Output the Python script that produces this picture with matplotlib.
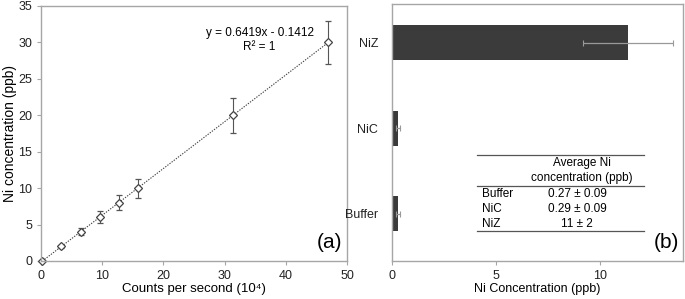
import numpy as np
import matplotlib as mpl
mpl.use('Agg')
import matplotlib.pyplot as plt

plt.rcParams['font.family'] = ['Liberation Sans', 'DejaVu Sans']

# calibration data (a)
cps = [0.22, 3.34, 6.45, 9.57, 12.68, 15.8, 31.38, 46.95]
conc = [0, 2, 4, 6, 8, 10, 20, 30]
conc_err = [0, 0.2, 0.5, 0.8, 1.0, 1.3, 2.4, 3.0]
slope, icpt = 0.6419, -0.1412

# bar data (b)
samples = ['Buffer', 'NiC', 'NiZ']
ni_mean = [0.27, 0.29, 11.35]
ni_err = [0.09, 0.09, 2.15]
tbl_rows = ['Buffer', 'NiC', 'NiZ']
tbl_vals = ['0.27 \u00b1 0.09', '0.29 \u00b1 0.09', '11 \u00b1 2']

spine_c = '#a6a6a6'
fig = plt.figure(figsize=(6.85, 2.99), dpi=100)
ax1 = fig.add_axes([0.0599, 0.1271, 0.4467, 0.853])
ax2 = fig.add_axes([0.5723, 0.1271, 0.4248, 0.8595])

for ax in (ax1, ax2):
    for s in ax.spines.values():
        s.set_color(spine_c)
        s.set_linewidth(1.0)
    ax.tick_params(colors=spine_c, labelcolor='#222222', labelsize=9, length=3, width=0.8)

# (a)
xx = np.linspace(min(cps), max(cps), 50)
ax1.plot(xx, slope*xx + icpt, ls=(0, (1.2, 1.2)), color='#444444', lw=0.8)
eb = ax1.errorbar(cps, conc, yerr=conc_err, fmt='D', ms=4.5, mfc='white', mec='#444444', mew=0.9,
                  ecolor='#555555', elinewidth=0.8, capsize=2.5, capthick=0.8)
eb.lines[0].set_clip_on(False)
ax1.set_xlim(0, 50)
ax1.set_ylim(0, 35)
ax1.set_xticks(range(0, 51, 10))
ax1.set_yticks(range(0, 36, 5))
ax1.set_xlabel('Counts per second (10\u2074)', fontsize=9.5, labelpad=1)
ax1.set_ylabel('Ni concentration (ppb)', fontsize=10, labelpad=1)
ax1.text(35.8, 31.3, 'y = 0.6419x - 0.1412', ha='center', va='center', fontsize=8.5)
ax1.text(35.6, 29.4, 'R\u00b2 = 1', ha='center', va='center', fontsize=8.5)
ax1.text(0.985, 0.035, '(a)', transform=ax1.transAxes, ha='right', va='bottom', fontsize=15)

# (b)
ypos = np.arange(len(samples))
ax2.barh(ypos, ni_mean, height=0.41, color='#3b3b3b')
ax2.errorbar(ni_mean, ypos, xerr=ni_err, fmt='none', ecolor='#999999', elinewidth=0.9,
             capsize=2.5, capthick=0.8)
ax2.set_yticks(ypos)
ax2.set_yticklabels(samples)
ax2.tick_params(axis='y', length=0, pad=10)
ax2.set_xlim(0, 14)
ax2.set_ylim(-0.55, 2.45)
ax2.set_xticks([0, 5, 10])
ax2.set_xlabel('Ni Concentration (ppb)', fontsize=9, labelpad=1)
ax2.text(0.985, 0.035, '(b)', transform=ax2.transAxes, ha='right', va='bottom', fontsize=15)

# inset table
tr = ax2.transAxes
for yl in (0.412, 0.292, 0.117):
    ax2.plot([0.292, 0.866], [yl, yl], color='#555555', lw=0.9, transform=tr, clip_on=False)
ax2.text(0.653, 0.381, 'Average Ni', transform=tr, ha='center', va='center', fontsize=8.5)
ax2.text(0.653, 0.323, 'concentration (ppb)', transform=tr, ha='center', va='center', fontsize=8.5)
for yv, lab, val in zip([0.261, 0.202, 0.144], tbl_rows, tbl_vals):
    ax2.text(0.309, yv, lab, transform=tr, ha='left', va='center', fontsize=8.5)
    ax2.text(0.636, yv, val, transform=tr, ha='center', va='center', fontsize=8.5)

plt.savefig('out.png', dpi=100, facecolor='w')
